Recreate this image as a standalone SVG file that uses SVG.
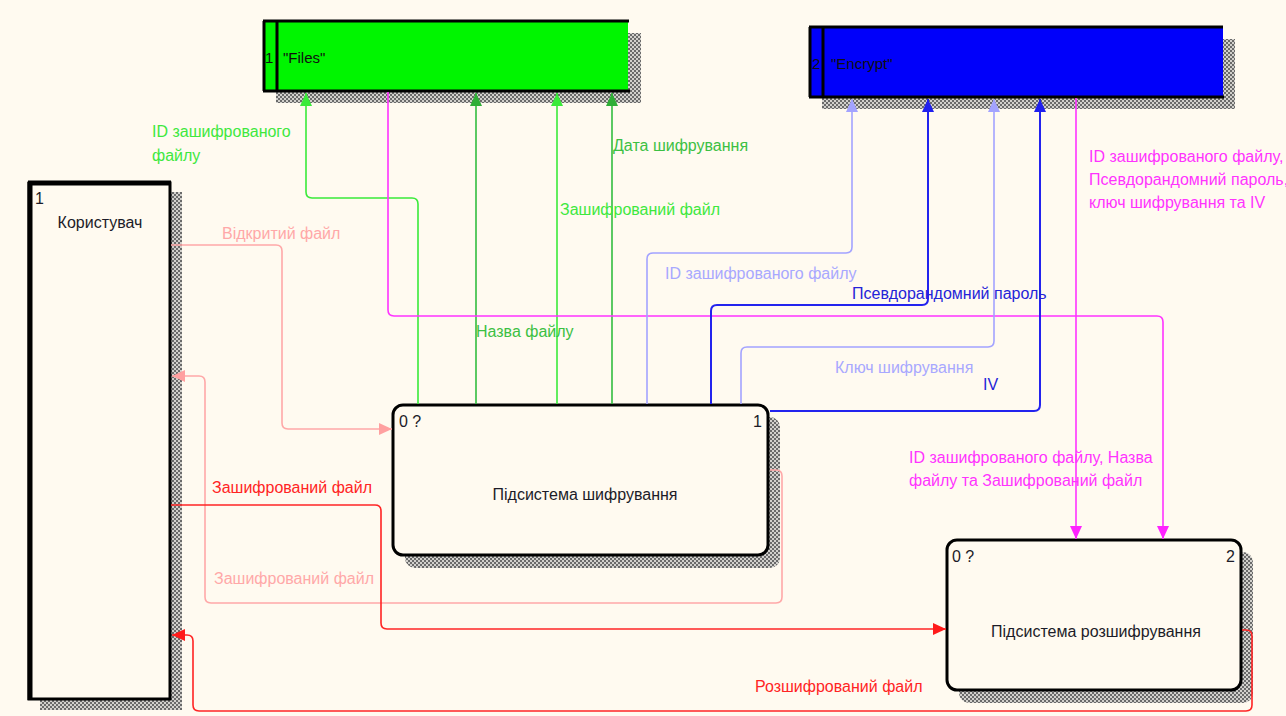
<svg xmlns="http://www.w3.org/2000/svg" width="1286" height="716" viewBox="0 0 1286 716">
  <style>
    text { font-family: "Liberation Sans", Arial, sans-serif; font-size: 16px; }
    .nt { fill: #1c1c28; font-size: 16px; }
    .st { fill: #101010; font-size: 15px; }
    .box { fill: #fffaf0; stroke: #000; stroke-width: 3; }
    .shadow { fill: url(#hatch); }
    .c { fill: none; stroke-width: 1.6; stroke-linejoin: round; }
    .gB { stroke: #3aea3a; }
    .gD { stroke: #33bd3f; }
    .mg { stroke: #ff33ff; }
    .bL { stroke: #a3a3ff; }
    .bD { stroke: #2323ee; stroke-width: 2; }
    .pk { stroke: #ffa8a8; }
    .rd { stroke: #ff2424; }
    .lgB { fill: #3ee83e; }
    .lgD { fill: #3cc043; }
    .lmg { fill: #ff33ff; }
    .lbL { fill: #a8a8ff; }
    .lbD { fill: #2424d8; }
    .lpk { fill: #ffa8a8; }
    .lrd { fill: #ff2424; }
  </style>
  <defs>
    <pattern id="hatch" width="4" height="4" patternUnits="userSpaceOnUse">
      <rect width="4" height="4" fill="#d2d0cc"/>
      <rect width="2" height="2" fill="#6a6a6a"/>
      <rect x="2" y="2" width="2" height="2" fill="#6a6a6a"/>
    </pattern>
    <marker id="aGB" markerUnits="userSpaceOnUse" markerWidth="13" markerHeight="12" refX="13" refY="6" orient="auto"><path d="M0,0 L13,6 L0,12 z" fill="#3aea3a"/></marker>
    <marker id="aGD" markerUnits="userSpaceOnUse" markerWidth="13" markerHeight="12" refX="13" refY="6" orient="auto"><path d="M0,0 L13,6 L0,12 z" fill="#2fae36"/></marker>
    <marker id="aMG" markerUnits="userSpaceOnUse" markerWidth="13" markerHeight="12" refX="13" refY="6" orient="auto"><path d="M0,0 L13,6 L0,12 z" fill="#ff22ff"/></marker>
    <marker id="aBL" markerUnits="userSpaceOnUse" markerWidth="13" markerHeight="12" refX="13" refY="6" orient="auto"><path d="M0,0 L13,6 L0,12 z" fill="#a3a3ff"/></marker>
    <marker id="aBD" markerUnits="userSpaceOnUse" markerWidth="13" markerHeight="12" refX="13" refY="6" orient="auto"><path d="M0,0 L13,6 L0,12 z" fill="#1f1fee"/></marker>
    <marker id="aPK" markerUnits="userSpaceOnUse" markerWidth="13" markerHeight="12" refX="13" refY="6" orient="auto"><path d="M0,0 L13,6 L0,12 z" fill="#ffa0a0"/></marker>
    <marker id="aRD" markerUnits="userSpaceOnUse" markerWidth="13" markerHeight="12" refX="13" refY="6" orient="auto"><path d="M0,0 L13,6 L0,12 z" fill="#ff1a1a"/></marker>
  </defs>

  <rect width="1286" height="716" fill="#fffaf0"/>

  <!-- data store 1 -->
  <g id="store-files">
    <rect class="shadow" x="276" y="33" width="365" height="70"/>
    <rect x="263" y="21" width="365" height="70" fill="#00f500"/>
    <path d="M263,21 H629 M263,91 H630 M264,21 V91 M277,21 V91" stroke="#000" stroke-width="3" fill="none"/>
    <text class="st" x="265" y="63">1</text>
    <text class="st" x="283" y="63">"Files"</text>
  </g>

  <!-- data store 2 -->
  <g id="store-encrypt">
    <rect class="shadow" x="822" y="39" width="413" height="70"/>
    <rect x="809" y="27" width="414" height="70" fill="#0000fa"/>
    <path d="M809,27 H1223 M809,97 H1224 M810,27 V97 M823,27 V97" stroke="#000" stroke-width="3" fill="none"/>
    <text class="st" x="812" y="69">2</text>
    <text class="st" x="831" y="69">"Encrypt"</text>
  </g>

  <!-- external entity -->
  <g id="user">
    <rect class="shadow" x="40" y="192" width="142" height="518"/>
    <rect class="box" x="29" y="183" width="141" height="516"/>
    <path d="M30,182 V700 M28,183 H171" stroke="#000" stroke-width="5" fill="none"/>
    <text class="nt" x="35" y="204">1</text>
    <text class="nt" x="100" y="228" text-anchor="middle">Користувач</text>
  </g>

  <!-- process 1 -->
  <g id="proc-encrypt">
    <rect class="shadow" x="405" y="417" width="375" height="151" rx="10"/>
    <rect class="box" x="393" y="405" width="375" height="150" rx="10"/>
    <text class="nt" x="399" y="427">0 ?</text>
    <text class="nt" x="762" y="427" text-anchor="end">1</text>
    <text class="nt" x="585" y="500" text-anchor="middle">Підсистема шифрування</text>
  </g>

  <!-- process 2 -->
  <g id="proc-decrypt">
    <rect class="shadow" x="959" y="552" width="294" height="151" rx="10"/>
    <rect class="box" x="947" y="540" width="294" height="150" rx="10"/>
    <text class="nt" x="952" y="562">0 ?</text>
    <text class="nt" x="1235" y="562" text-anchor="end">2</text>
    <text class="nt" x="1096" y="637" text-anchor="middle">Підсистема розшифрування</text>
  </g>

  <!-- data flows -->
  <g id="flows">
    <!-- to "Files" -->
    <path class="c gB" marker-end="url(#aGB)" d="M418,404 V204 Q418,198 412,198 H312 Q306,198 306,192 V93"/>
    <path class="c gD" marker-end="url(#aGD)" d="M476,404 V93"/>
    <path class="c gB" marker-end="url(#aGB)" d="M557,404 V93"/>
    <path class="c gD" marker-end="url(#aGD)" d="M612,404 V93"/>

    <!-- to decryption -->
    <path class="c mg" marker-end="url(#aMG)" d="M388,92 V310 Q388,316 394,316 H1157 Q1163,316 1163,322 V539"/>
    <path class="c mg" marker-end="url(#aMG)" d="M1076,98 V539"/>

    <!-- to "Encrypt" -->
    <path class="c bL" marker-end="url(#aBL)" d="M647,404 V259 Q647,253 653,253 H846 Q852,253 852,247 V99"/>
    <path class="c bD" marker-end="url(#aBD)" d="M711,404 V311 Q711,305 717,305 H922 Q928,305 928,299 V99"/>
    <path class="c bL" marker-end="url(#aBL)" d="M741,404 V353 Q741,347 747,347 H988 Q994,347 994,341 V99"/>
    <path class="c bD" marker-end="url(#aBD)" d="M770,411 H1034 Q1040,411 1040,405 V99"/>

    <!-- user / processes -->
    <path class="c pk" marker-end="url(#aPK)" d="M171,245 H276 Q282,245 282,251 V423 Q282,429 288,429 H392"/>
    <path class="c pk" marker-end="url(#aPK)" d="M770,470 H776 Q782,470 782,476 V597 Q782,603 776,603 H211 Q205,603 205,597 V382 Q205,376 199,376 H172"/>
    <path class="c rd" marker-end="url(#aRD)" d="M171,505 H375 Q381,505 381,511 V623 Q381,629 387,629 H946"/>
    <path class="c rd" marker-end="url(#aRD)" d="M1242,630 H1246 Q1252,630 1252,636 V705 Q1252,711 1246,711 H199 Q193,711 193,705 V641 Q193,635 187,635 H172"/>

    <!-- labels -->
    <text class="lgB" x="152" y="137">ID зашифрованого</text>
    <text class="lgB" x="152" y="161">файлу</text>
    <text class="lgD" x="613" y="151">Дата шифрування</text>
    <text class="lgB" x="560" y="215">Зашифрований файл</text>
    <text class="lgD" x="476" y="337">Назва файлу</text>
    <text class="lpk" x="222" y="239">Відкритий файл</text>
    <text class="lbL" x="665" y="279">ID зашифрованого файлу</text>
    <text class="lbD" x="852" y="299">Псевдорандомний пароль</text>
    <text class="lbL" x="835" y="373">Ключ шифрування</text>
    <text class="lbD" x="983" y="390">IV</text>
    <text class="lmg" x="1089" y="162">ID зашифрованого файлу,</text>
    <text class="lmg" x="1089" y="185">Псевдорандомний пароль,</text>
    <text class="lmg" x="1089" y="208">ключ шифрування та IV</text>
    <text class="lmg" x="909" y="463">ID зашифрованого файлу, Назва</text>
    <text class="lmg" x="909" y="486">файлу та Зашифрований файл</text>
    <text class="lrd" x="212" y="493">Зашифрований файл</text>
    <text class="lpk" x="214" y="584">Зашифрований файл</text>
    <text class="lrd" x="755" y="692">Розшифрований файл</text>
  </g>
</svg>
